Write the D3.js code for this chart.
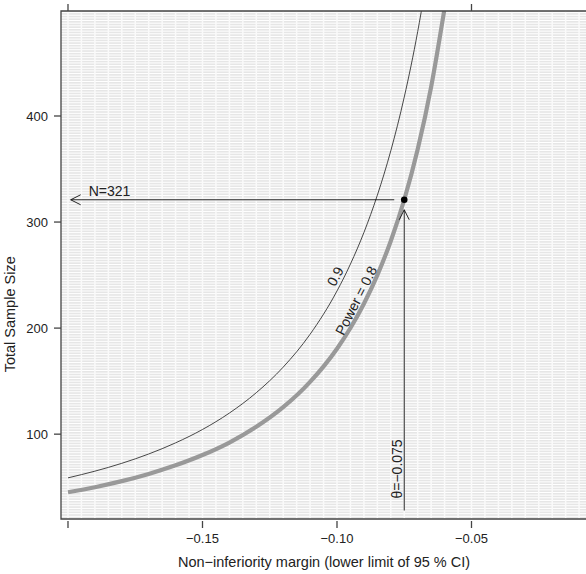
<!DOCTYPE html>
<html>
<head>
<meta charset="utf-8">
<script src="https://cdn.jsdelivr.net/npm/d3@7"></script>
<style>
  body { margin: 0; background: #fff; }
  text { font-family: "Liberation Sans", Arial, sans-serif; fill: #222; }
</style>
</head>
<body>
<svg id="chart" width="586" height="574"></svg>
<script>
// values
const margins = [-0.200, -0.190, -0.180, -0.170, -0.160, -0.150, -0.140, -0.130, -0.120,
                 -0.110, -0.100, -0.095, -0.090, -0.085, -0.080, -0.075, -0.070, -0.065, -0.060];
const power80 = [45.2, 50.0, 55.7, 62.5, 70.6, 80.3, 92.1, 106.9, 125.4, 149.3, 180.6,
                 200.1, 223.0, 250.0, 282.2, 321.0, 368.6, 427.5, 501.7];
const power90 = [58.8, 65.1, 72.5, 81.3, 91.8, 104.4, 119.9, 139.1, 163.2, 194.2, 235.0,
                 260.4, 290.1, 325.3, 367.2, 417.8, 479.6, 556.2, 652.8];
const xTicks = [-0.20, -0.15, -0.10, -0.05];
const xTickLabels = ["", "\u22120.15", "\u22120.10", "\u22120.05"];
const topTicks = [-0.20, -0.05];
const yTicks = [100, 200, 300, 400];
const chosen = { margin: -0.075, n: 321 };

let svg = d3.select("#chart");
let plot = { left: 61, top: 11, bottom: 519, right: 606 };

let x = d3.scaleLinear().domain([-0.2026, 0]).range([plot.left, plot.right]);
let y = d3.scaleLinear().domain([20, 499]).range([plot.bottom, plot.top]);

svg.append("defs").append("clipPath").attr("id", "clip")
    .append("rect")
    .attr("x", plot.left).attr("y", plot.top)
    .attr("width", plot.right - plot.left).attr("height", plot.bottom - plot.top);

// panel background with lattice-like grid
let bg = svg.append("g").attr("clip-path", "url(#clip)");
bg.append("rect")
    .attr("x", plot.left).attr("y", plot.top)
    .attr("width", plot.right - plot.left).attr("height", plot.bottom - plot.top)
    .style("fill", "#e6e6e6");
bg.selectAll(".hgrid").data(d3.range(20, 500, 2.5))
    .enter().append("line").attr("class", "hgrid")
    .attr("x1", plot.left).attr("x2", plot.right)
    .attr("y1", d => y(d)).attr("y2", d => y(d))
    .style("stroke", "#fff").style("stroke-width", 1);
bg.selectAll(".vgrid").data(d3.range(-0.2, 0, 0.005))
    .enter().append("line").attr("class", "vgrid")
    .attr("x1", d => x(d)).attr("x2", d => x(d))
    .attr("y1", plot.top).attr("y2", plot.bottom)
    .style("stroke", "#fafafa").style("stroke-width", 1.5);

// curves
let line = d3.line().curve(d3.curveMonotoneX)
    .x(d => x(d[0])).y(d => y(d[1]));
let curves = svg.append("g").attr("clip-path", "url(#clip)");
curves.append("path")
    .attr("d", line(d3.zip(margins, power90)))
    .style("fill", "none").style("stroke", "#333").style("stroke-width", 0.9);
curves.append("path")
    .attr("d", line(d3.zip(margins, power80)))
    .style("fill", "none").style("stroke", "#999").style("stroke-width", 4.2);

// annotation arrows
let cx = x(chosen.margin), cy = y(chosen.n);
let ann = svg.append("g").style("stroke", "#111").style("stroke-width", 0.9).style("fill", "none");
let leftEnd = x(-0.1990);
ann.append("line").attr("x1", cx - 10).attr("x2", leftEnd).attr("y1", cy).attr("y2", cy);
ann.append("path").attr("d", `M${leftEnd + 10},${cy - 5}L${leftEnd},${cy}L${leftEnd + 10},${cy + 5}`);
let bottomEnd = y(28);
ann.append("line").attr("x1", cx).attr("x2", cx).attr("y1", bottomEnd).attr("y2", cy + 10);
ann.append("path").attr("d", `M${cx - 5},${cy + 20}L${cx},${cy + 10}L${cx + 5},${cy + 20}`);
svg.append("circle").attr("cx", cx).attr("cy", cy).attr("r", 3.3).style("fill", "#000");

svg.append("text").attr("x", leftEnd + 18).attr("y", cy - 4)
    .style("font-size", "14px").text("N=" + chosen.n);
svg.append("text")
    .attr("transform", `translate(${cx - 2},${bottomEnd - 12}) rotate(-90)`)
    .style("font-size", "14px").text("\u03b8=\u22120.075");

// curve labels, sitting just above-left of their curve
svg.append("text")
    .attr("transform", `translate(${x(-0.0979)},${y(245)}) rotate(-62)`)
    .attr("text-anchor", "middle").attr("dy", "-0.25em")
    .style("font-size", "14px").text("0.9");
svg.append("text")
    .attr("transform", `translate(${x(-0.0899)},${y(222)}) rotate(-63)`)
    .attr("text-anchor", "middle").attr("dy", "-0.3em")
    .style("font-size", "14px").text("Power = 0.8");

// frame
let frame = svg.append("g").style("stroke", "#444").style("stroke-width", 1.3);
frame.append("path")
    .attr("d", `M${plot.right},${plot.top}H${plot.left}V${plot.bottom}H${plot.right}`)
    .style("fill", "none");

// axes ticks
frame.selectAll(".xt").data(xTicks).enter().append("line")
    .attr("x1", d => x(d)).attr("x2", d => x(d))
    .attr("y1", plot.bottom + 2).attr("y2", plot.bottom + 9);
frame.selectAll(".tt").data(topTicks).enter().append("line")
    .attr("x1", d => x(d)).attr("x2", d => x(d))
    .attr("y1", plot.top - 7).attr("y2", plot.top);
frame.selectAll(".yt").data(yTicks).enter().append("line")
    .attr("x1", plot.left - 7).attr("x2", plot.left)
    .attr("y1", d => y(d)).attr("y2", d => y(d));

svg.selectAll(".xl").data(xTicks).enter().append("text")
    .attr("x", d => x(d)).attr("y", plot.bottom + 24)
    .attr("text-anchor", "middle").style("font-size", "13px")
    .text((d, i) => xTickLabels[i]);
svg.selectAll(".yl").data(yTicks).enter().append("text")
    .attr("x", plot.left - 13).attr("y", d => y(d)).attr("dy", "0.36em")
    .attr("text-anchor", "end").style("font-size", "13px")
    .text(d => d);

// axis titles
svg.append("text").attr("x", 324).attr("y", 567)
    .attr("text-anchor", "middle").style("font-size", "14.5px")
    .text("Non\u2212inferiority margin (lower limit of 95 % CI)");
svg.append("text")
    .attr("transform", `translate(15,${y(213)}) rotate(-90)`)
    .attr("text-anchor", "middle").style("font-size", "14.5px")
    .text("Total Sample Size");
</script>
</body>
</html>
